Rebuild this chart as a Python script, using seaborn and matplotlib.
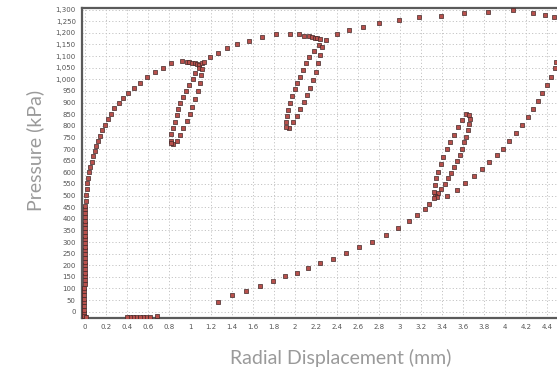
import matplotlib
matplotlib.use("Agg")
import matplotlib.pyplot as plt
import seaborn as sns
import pandas as pd
from matplotlib.ticker import FuncFormatter

# ---- data (radial displacement mm, pressure kPa) ----
vert_x = [-0.008, -0.007, -0.007, -0.006, -0.006, -0.006, -0.005, -0.005, -0.005, -0.004,
          -0.004, -0.004, -0.003, -0.003, -0.003, -0.002, -0.002, -0.002, -0.001, -0.001,
          0.0, 0.0, 0.0, 0.001, 0.001, 0.002, 0.002, 0.003, 0.003, 0.004,
          0.004, 0.007, 0.012, 0.016, 0.022, 0.0, -0.01, 0.005]
vert_y = [-18, -5, 8, 24, 40, 56, 72, 88, 104, 120,
          136, 152, 168, 184, 200, 216, 232, 248, 264, 280,
          296, 312, 328, 344, 360, 376, 392, 408, 424, 440,
          457, 478, 502, 528, 553, -22, -20, -24]

load1_x = [0.025, 0.038, 0.05, 0.067, 0.076, 0.095, 0.108, 0.12, 0.14, 0.165, 0.187, 0.216,
           0.244, 0.279, 0.32, 0.365, 0.41, 0.463, 0.527, 0.59, 0.663, 0.74, 0.822, 0.92]
load1_y = [577, 600, 621, 646, 670, 692, 715, 735, 756, 781, 804, 830,
           852, 876, 897, 921, 943, 963, 985, 1009, 1030, 1048, 1069, 1078]

loop1_x = [0.968, 0.99, 1.017, 1.043, 1.07, 1.089,
           0.819, 0.822, 0.835, 0.854, 0.873, 0.889, 0.908, 0.933, 0.959, 0.99, 1.025, 1.05, 1.086,
           1.11, 1.105, 1.092, 1.073, 1.048, 1.019, 0.997, 0.968, 0.93, 0.905, 0.873, 0.835, 0.82,
           1.114, 1.133]
loop1_y = [1075, 1073, 1070, 1069, 1066, 1063,
           733, 764, 791, 818, 845, 871, 897, 924, 949, 975, 1002, 1026, 1049,
           1045, 1020, 983, 950, 914, 882, 850, 820, 792, 762, 736, 721, 727,
           1069, 1073]

load2_x = [1.19, 1.267, 1.349, 1.444, 1.565, 1.686, 1.819]
load2_y = [1094, 1115, 1134, 1150, 1165, 1181, 1195]

loop2_x = [1.955, 2.038, 2.089, 2.13, 2.162, 2.187, 2.21, 2.235,
           1.911, 1.924, 1.933, 1.949, 1.974, 1.997, 2.019, 2.044, 2.073, 2.102, 2.136, 2.181, 2.232,
           2.254, 2.241, 2.219, 2.197, 2.175, 2.146, 2.114, 2.086, 2.05, 2.016, 1.978, 1.943, 1.914]
loop2_y = [1197, 1193, 1188, 1185, 1183, 1180, 1177, 1174,
           815, 841, 868, 897, 927, 957, 986, 1012, 1040, 1071, 1096, 1124, 1147,
           1141, 1105, 1069, 1033, 997, 964, 931, 903, 874, 842, 815, 791, 794]

load3_x = [2.298, 2.397, 2.511, 2.648, 2.803, 2.987, 3.184, 3.394, 3.61, 3.838, 4.076,
           4.27, 4.384, 4.467]
load3_y = [1171, 1193, 1211, 1227, 1243, 1256, 1267, 1274, 1284, 1290, 1297,
           1284, 1277, 1270]

unload1_x = [4.49, 4.473, 4.435, 4.397, 4.355, 4.311, 4.267, 4.219, 4.159, 4.108, 4.041,
             3.984, 3.924, 3.851, 3.781, 3.705, 3.619, 3.54, 3.451]
unload1_y = [1075, 1048, 1012, 975, 943, 908, 874, 839, 802, 771, 736,
             702, 675, 643, 614, 584, 553, 524, 498]

loop3_x = [3.324, 3.333, 3.346, 3.362, 3.387, 3.413, 3.444, 3.473, 3.511, 3.549, 3.587, 3.629, 3.657,
           3.667, 3.657, 3.644, 3.629, 3.613, 3.594, 3.571, 3.54, 3.514, 3.486, 3.457, 3.425,
           3.394, 3.365, 3.333, 3.352, 3.321]
loop3_y = [517, 547, 577, 603, 634, 667, 699, 730, 762, 794, 824, 851, 848,
           831, 808, 782, 753, 729, 700, 675, 649, 622, 597, 574, 550,
           528, 510, 498, 495, 488]

unload2_x = [3.279, 3.235, 3.165, 3.086, 2.981, 2.863, 2.733, 2.613, 2.483, 2.365, 2.241,
             2.124, 2.016, 1.902, 1.794, 1.663, 1.53, 1.4, 1.27,
             0.682, 0.619, 0.58, 0.55, 0.52, 0.49, 0.46, 0.43, 0.40]
unload2_y = [465, 441, 418, 389, 359, 330, 301, 277, 251, 228, 208,
             187, 168, 152, 132, 111, 89, 72, 42,
             -20, -23, -24, -24, -24, -24, -24, -24, -24]

x_ticks = [0, 0.2, 0.4, 0.6, 0.8, 1, 1.2, 1.4, 1.6, 1.8, 2, 2.2, 2.4, 2.6, 2.8,
           3, 3.2, 3.4, 3.6, 3.8, 4, 4.2, 4.4]
y_ticks = list(range(0, 1301, 50))

xs = vert_x + load1_x + loop1_x + load2_x + loop2_x + load3_x + unload1_x + loop3_x + unload2_x
ys = vert_y + load1_y + loop1_y + load2_y + loop2_y + load3_y + unload1_y + loop3_y + unload2_y
df = pd.DataFrame({"disp": xs, "pres": ys})

sns.set_style("white")
plt.rcParams["font.family"] = ["DejaVu Sans"]

W, H = 557, 372
fig = plt.figure(figsize=(W / 100, H / 100), dpi=100)
ax = fig.add_axes([82 / W, (H - 318) / H, (W - 82) / W, (318 - 8) / H])

sns.scatterplot(data=df, x="disp", y="pres", ax=ax, marker="s", s=6,
                color="#b8504c", edgecolor="#402828", linewidth=0.5, zorder=3)

ax.set_xlim(-0.0286, 4.495)
ax.set_ylim(-27, 1307)
ax.set_xticks(x_ticks)
ax.set_yticks(y_ticks)
ax.xaxis.set_major_formatter(FuncFormatter(lambda v, p: f"{v:g}"))
ax.yaxis.set_major_formatter(FuncFormatter(lambda v, p: f"{v:,.0f}"))
ax.grid(True, linestyle=(0, (1.2, 2.2)), color="#c4c4c4", linewidth=0.7, zorder=0)
ax.tick_params(axis="both", labelsize=5, labelcolor="#555555", length=1.5,
               width=0.5, color="#999999", pad=3)

for side in ["left", "bottom", "top"]:
    ax.spines[side].set_visible(True)
    ax.spines[side].set_color("#5a5a5a")
    ax.spines[side].set_linewidth(1.6)
ax.spines["right"].set_visible(False)

ax.set_xlabel("")
ax.set_ylabel("")
fig.text(341 / W, 1 - 358 / H, "Radial Displacement (mm)", ha="center", va="center",
         fontsize=14, color="#9a9a9a", family=["Lato", "DejaVu Sans"])
fig.text(35 / W, 1 - 150 / H, "Pressure (kPa)", ha="center", va="center", rotation=90,
         fontsize=14, color="#9a9a9a", family=["Lato", "DejaVu Sans"])

fig.savefig("out.png", dpi=100)
